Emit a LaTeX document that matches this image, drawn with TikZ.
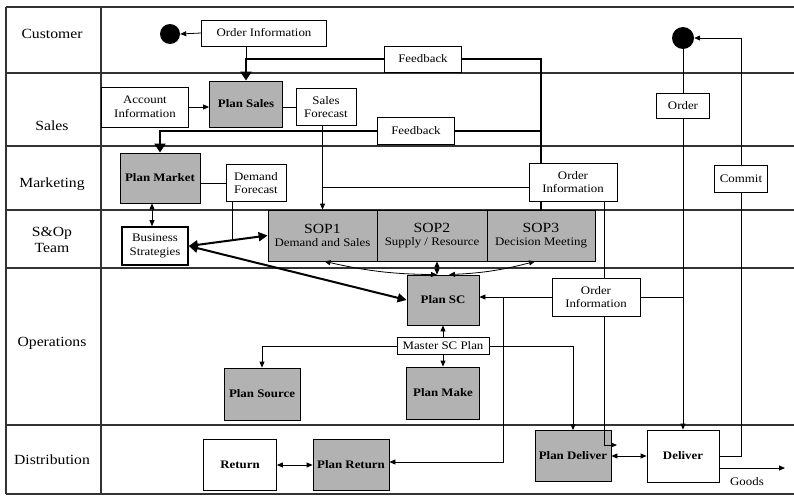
\documentclass[tikz,border=0pt]{standalone}
\usepackage{fontspec}
\setmainfont{Liberation Serif}[FakeStretch=1.12]
\usetikzlibrary{arrows.meta}
\begin{document}
\begin{tikzpicture}[x=1pt,y=-1pt,
  lane/.style={line width=1.4pt, draw=black!80},
  lanelbl/.style={font=\fontsize{14}{16}\selectfont, align=center},
  txt/.style={draw, fill=white, line width=0.6pt, align=center, inner sep=1pt,
    font=\fontsize{11.5}{13.5}\selectfont},
  plan/.style={draw, fill=gray!60, line width=0.8pt, align=center, inner sep=1pt,
    font=\fontsize{11.5}{13}\selectfont\bfseries},
  act/.style={draw, fill=white, line width=0.8pt, align=center, inner sep=1pt,
    font=\fontsize{11.5}{13}\selectfont\bfseries},
  sopbox/.style={draw, fill=gray!60, line width=0.8pt, align=center, inner sep=1pt,
    minimum height=51, font=\fontsize{11.5}{13.5}\selectfont},
  dot/.style={circle, fill=black, inner sep=0pt},
  conn/.style={line width=0.8pt},
  flow/.style={line width=0.8pt, -{Triangle[length=6pt,width=5pt]}},
  dflow/.style={line width=0.8pt, {Triangle[length=6pt,width=5pt]}-{Triangle[length=6pt,width=5pt]}},
  fbline/.style={line width=2.4pt},
  fbflow/.style={line width=2.4pt, -{Triangle[length=9pt,width=11pt]}},
  tflow/.style={line width=2pt, {Triangle[length=9pt,width=9pt]}-{Triangle[length=9pt,width=9pt]}}
]
\useasboundingbox (0,0) rectangle (794,498);

% swimlane grid
\foreach \yy in {7,73,146,210,268,425,494}
  \draw[lane] (6,\yy) -- (794,\yy);
\draw[lane] (6,7) -- (6,494);
\draw[lane] (101,7) -- (101,494);

% lane titles
\node[lanelbl] (lCust) at (52,34) {Customer};
\node[lanelbl] (lSales) at (52,126) {Sales};
\node[lanelbl] (lMkt) at (52,184) {Marketing};
\node[lanelbl] (lSop) at (52,240) {S\&Op\\Team};
\node[lanelbl] (lOps) at (52,343) {Operations};
\node[lanelbl] (lDist) at (52,460) {Distribution};

% Customer lane
\node[dot, minimum size=20pt] (c1) at (170,34) {};
\node[txt, minimum width=125, minimum height=26] (oi1) at (264,33) {Order Information};
\node[txt, minimum width=77, minimum height=26] (fb1) at (423,59) {Feedback};
\node[dot, minimum size=22pt] (c2) at (683,38) {};

% Sales lane
\node[txt, minimum width=87, minimum height=40] (acc) at (145,107) {Account\\Information};
\node[plan, minimum width=73, minimum height=46] (ps) at (246,104) {Plan Sales};
\node[txt, minimum width=60, minimum height=37] (sf) at (326,107) {Sales\\Forecast};
\node[txt, minimum width=77, minimum height=27] (fb2) at (416,131) {Feedback};
\node[txt, minimum width=53, minimum height=25] (ord) at (683,106) {Order};

% Marketing lane
\node[plan, minimum width=80, minimum height=50] (pm) at (160,178) {Plan Market};
\node[txt, minimum width=60, minimum height=37] (df) at (256,183) {Demand\\Forecast};
\node[txt, minimum width=88, minimum height=38] (oi2) at (573,182) {Order\\Information};
\node[txt, minimum width=53, minimum height=27] (com) at (741,179) {Commit};

% S&Op lane
\node[txt, line width=1.6pt, minimum width=66, minimum height=38] (bs) at (155,246) {Business\\Strategies};
\node[sopbox, minimum width=109] (sop1) at (322.5,235.5) {{\fontsize{14}{15}\selectfont SOP1}\\Demand and Sales};
\node[sopbox, minimum width=110] (sop2) at (432,235.5) {{\fontsize{14}{15}\selectfont SOP2}\\Supply / Resource};
\node[sopbox, minimum width=108] (sop3) at (541,235.5) {{\fontsize{14}{15}\selectfont SOP3}\\Decision Meeting};

% Operations lane
\node[plan, minimum width=72, minimum height=50] (psc) at (443,300) {Plan SC};
\node[txt, minimum width=88, minimum height=38] (oi3) at (596,297) {Order\\Information};
\node[txt, minimum width=92, minimum height=17] (msp) at (443,346) {Master SC Plan};
\node[plan, minimum width=76, minimum height=52] (psrc) at (262,394) {Plan Source};
\node[plan, minimum width=73, minimum height=52] (pmk) at (443,393) {Plan Make};

% Distribution lane
\node[act, minimum width=73, minimum height=51] (ret) at (240,465) {Return};
\node[plan, minimum width=76, minimum height=51] (pr) at (351,465) {Plan Return};
\node[plan, minimum width=76, minimum height=51] (pd) at (573,456) {Plan Deliver};
\node[act, minimum width=72, minimum height=52] (del) at (683,456) {Deliver};
\node[font=\fontsize{11.5}{13}\selectfont] (gl) at (747,482) {Goods};

% free ends and junctions
\coordinate (goods) at (785,468);
\coordinate (dfj) at (232,240);
\coordinate (oiv) at (604,445);
\coordinate (pdin) at (617,445);
\coordinate (rtn) at (503,462);

% customer order flow
\draw[flow] (oi1.west) -- (c1.east);
\draw[conn] (oi1.south -| ps.north) -- (fb1.west -| ps.north);

% feedback loops
\draw[fbline] (sop3.north) -- (sop3.north |- oi2.south);
\draw[fbline] (sop3.north |- oi2.north) -- (sop3.north |- fb1.east) -- (fb1.east);
\draw[fbline] (sop3.north |- fb2.east) -- (fb2.east);
\draw[fbflow] (fb1.west) -- (fb1.west -| ps.north) -- (ps.north);
\draw[fbflow] (fb2.west) -- (fb2.west -| pm.north) -- (pm.north);

% sales planning
\draw[flow] (acc.east) -- (acc.east -| ps.west);
\draw[conn] (ps.east |- sf.west) -- (sf.west);
\draw[flow] (sf.south -| sop1.north) -- (sop1.north);
\draw[conn] ([yshift=-5pt]oi2.west) -- ([yshift=-5pt]oi2.west -| sop1.north);

% marketing and strategy
\draw[conn] (pm.east |- df.west) -- (df.west);
\draw[dflow] ([xshift=-8pt]pm.south) -- ([xshift=-8pt]pm.south |- bs.north);
\draw[conn] (df.south -| dfj) -- (dfj);
\draw[tflow] (bs.east) -- (sop1.west);
\draw[tflow] (bs.east) -- (psc.west);

% S&OP to supply chain planning
\draw[dflow] ([xshift=-6pt]psc.north) to[bend left=6] ([xshift=2pt]sop1.south);
\draw[dflow] ([xshift=-6pt]psc.north) -- ([xshift=-6pt]psc.north |- sop2.south);
\draw[dflow] ([xshift=6pt]psc.north) to[bend right=6] ([xshift=-6pt]sop3.south);

% order information in operations
\draw[conn] (oi2.south -| oiv) -- (oi3.north -| oiv);
\draw[flow] (oi3.south -| oiv) -- (oiv) -- (pdin);
\draw[flow] (oi3.west) -- (oi3.west -| psc.east);
\draw[flow] (oi3.west -| rtn) -- (rtn) -- (rtn -| pr.east);
\draw[conn] (oi3.east) -- (oi3.east -| ord.south);

% customer order to delivery
\draw[conn] (c2.south) -- (ord.north);
\draw[flow] (ord.south) -- (del.north);

% master plan distribution
\draw[flow] (msp.north) -- (psc.south);
\draw[flow] (msp.south) -- (pmk.north);
\draw[flow] (msp.west) -- (msp.west -| psrc.north) -- (psrc.north);
\draw[flow] (msp.east) -- (msp.east -| pd.north) -- (pd.north);

% delivery and returns
\draw[dflow] (pd.east) -- (del.west);
\draw[dflow] (ret.east) -- (pr.west);
\draw[conn] (del.east) -- (del.east -| com.south) -- (com.south);
\draw[flow] (com.north) -- (com.north |- c2.east) -- (c2.east);
\draw[flow] ([yshift=-12pt]del.east) -- (goods);
\end{tikzpicture}
\end{document}
